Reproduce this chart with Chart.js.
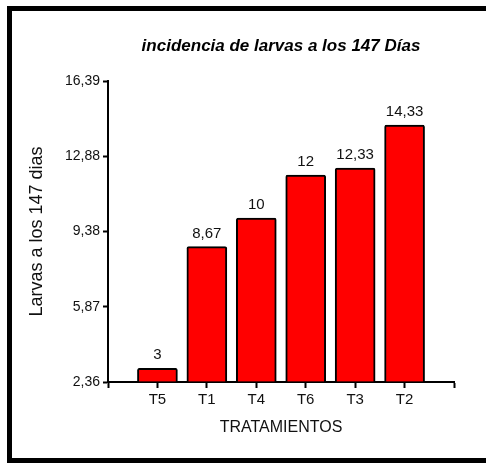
<!DOCTYPE html>
<html>
<head>
<meta charset="utf-8">
<script src="https://cdn.jsdelivr.net/npm/chart.js@4.4.1/dist/chart.umd.min.js"></script>
<style>
  html, body { margin: 0; padding: 0; background: #fff; overflow: hidden; }
  #wrap { position: relative; width: 486px; height: 463px; overflow: hidden; }
  #frame {
    position: absolute; left: 7px; top: 6px; width: 520px; height: 457px;
    box-sizing: border-box; border: 5px solid #000; pointer-events: none;
  }
</style>
</head>
<body>
<div id="wrap">
  <canvas id="chart" width="486" height="463"></canvas>
  <div id="frame"></div>
</div>
<script>
/* ===== datos ===== */
const tratamientos = ['T5', 'T1', 'T4', 'T6', 'T3', 'T2'];
const larvas = [3, 8.67, 10, 12, 12.33, 14.33];
const yTicks = [2.36, 5.87, 9.38, 12.88, 16.39];
const yMin = 2.36;
const yMax = 16.39;

const titulo = 'incidencia de larvas a los 147 Días';
const ejeX = 'TRATAMIENTOS';
const ejeY = 'Larvas a los 147 dias';

// huecos al inicio y al final del eje (como en el original)
const labels = [''].concat(tratamientos, ['']);
const valores = [null].concat(larvas, [null]);

const fmt = v => {
    const s = Number.isInteger(v) ? String(v) : v.toFixed(2);
    return s.replace('.', ',');
};

// título centrado sobre el área del gráfico
const tituloPlugin = {
    id: 'tituloPlugin',
    afterDraw(chart) {
        const { ctx, chartArea } = chart;
        ctx.save();
        ctx.font = 'italic bold 17px "Liberation Sans", Arial, sans-serif';
        ctx.fillStyle = '#000';
        ctx.textAlign = 'center';
        ctx.textBaseline = 'alphabetic';
        ctx.fillText(titulo, (chartArea.left + chartArea.right) / 2, 51);
        ctx.restore();
    }
};

// valores sobre cada barra
const valoresPlugin = {
    id: 'valoresPlugin',
    afterDatasetsDraw(chart) {
        const { ctx } = chart;
        const meta = chart.getDatasetMeta(0);
        ctx.save();
        ctx.font = '15px "Liberation Sans", Arial, sans-serif';
        ctx.fillStyle = '#111';
        ctx.textAlign = 'center';
        ctx.textBaseline = 'alphabetic';
        meta.data.forEach((bar, i) => {
            const v = valores[i];
            if (v === null) return;
            ctx.fillText(fmt(v), bar.x, bar.y - 9);
        });
        ctx.restore();
    }
};

const ctx = document.getElementById('chart').getContext('2d');
new Chart(ctx, {
    type: 'bar',
    data: {
        labels,
        datasets: [{
            data: valores,
            base: yMin,
            backgroundColor: '#ff0000',
            borderColor: '#000',
            borderWidth: 2,
            borderRadius: 2,
            borderSkipped: 'start',
            barThickness: 40
        }]
    },
    options: {
        responsive: false,
        animation: false,
        devicePixelRatio: 1,
        layout: { padding: { left: 20, right: 32, top: 81, bottom: 20 } },
        plugins: {
            legend: { display: false },
            title: { display: false },
            tooltip: { enabled: false }
        },
        scales: {
            x: {
                type: 'category',
                offset: false,
                afterFit: s => { s.height = 61; },
                grid: {
                    offset: false,
                    drawOnChartArea: false,
                    drawTicks: true,
                    tickLength: 6,
                    tickWidth: 2,
                    tickColor: '#000'
                },
                border: { display: true, color: '#000', width: 2 },
                ticks: {
                    color: '#111',
                    padding: 3,
                    maxRotation: 0,
                    autoSkip: false,
                    font: { family: '"Liberation Sans", Arial, sans-serif', size: 15 }
                },
                title: {
                    display: true,
                    text: ejeX,
                    color: '#111',
                    padding: { top: 0, bottom: 6 },
                    font: { family: '"Liberation Sans", Arial, sans-serif', size: 16, lineHeight: 1.2 }
                }
            },
            y: {
                min: yMin,
                max: yMax,
                afterFit: s => { s.width = 88; },
                afterBuildTicks: s => { s.ticks = yTicks.map(v => ({ value: v })); },
                grid: {
                    drawOnChartArea: false,
                    drawTicks: true,
                    tickLength: 5,
                    tickWidth: 2,
                    tickColor: '#000'
                },
                border: { display: true, color: '#000', width: 2 },
                ticks: {
                    color: '#111',
                    padding: 3,
                    callback: v => fmt(v),
                    font: { family: '"Liberation Sans", Arial, sans-serif', size: 14 }
                },
                title: {
                    display: true,
                    text: ejeY,
                    color: '#111',
                    padding: { top: 6, bottom: 0 },
                    font: { family: '"Liberation Sans", Arial, sans-serif', size: 18, lineHeight: 1.2 }
                }
            }
        }
    },
    plugins: [tituloPlugin, valoresPlugin]
});
</script>
</body>
</html>
